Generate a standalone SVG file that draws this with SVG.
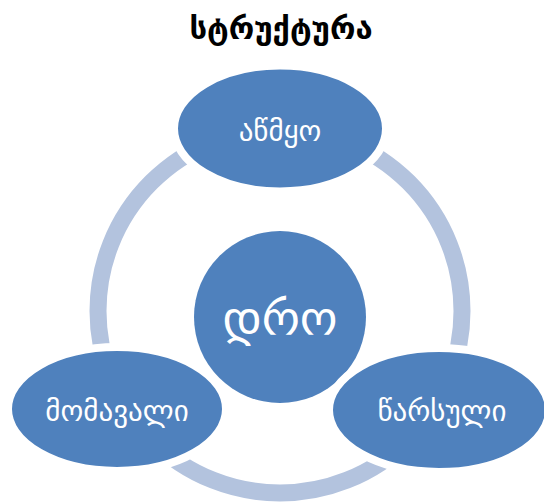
<svg xmlns="http://www.w3.org/2000/svg" width="544" height="504" viewBox="0 0 544 504">
<style>
.node{fill:#4f81bd;stroke:#ffffff;stroke-width:8}
.lbl{fill:#ffffff;font-family:"DejaVu Sans","Noto Sans",sans-serif;text-anchor:middle;dominant-baseline:central}
.ring{fill:none;stroke:#b3c3de;stroke-width:17}
</style>
<rect width="544" height="504" fill="#ffffff"/>
<text x="281" y="28" font-family="DejaVu Sans, Noto Sans, sans-serif" font-size="31" font-weight="bold" text-anchor="middle" dominant-baseline="central" fill="#000000">სტრუქტურა</text>
<g id="connectors">
<circle class="ring" cx="280" cy="311" r="182"/>
</g>
<g id="center">
<circle cx="280" cy="317" r="86" fill="#4f81bd"/>
<text class="lbl" x="280" y="318" font-size="48">დრო</text>
</g>
<g id="top">
<ellipse class="node" cx="280" cy="128.5" rx="106" ry="63"/>
<text class="lbl" x="280" y="131" font-size="29">აწმყო</text>
</g>
<g id="left">
<ellipse class="node" cx="117" cy="409" rx="109" ry="62"/>
<text class="lbl" x="117" y="411" font-size="29">მომავალი</text>
</g>
<g id="right">
<ellipse class="node" cx="439" cy="410" rx="110" ry="62"/>
<text class="lbl" x="442" y="411" font-size="29">წარსული</text>
</g>
</svg>
